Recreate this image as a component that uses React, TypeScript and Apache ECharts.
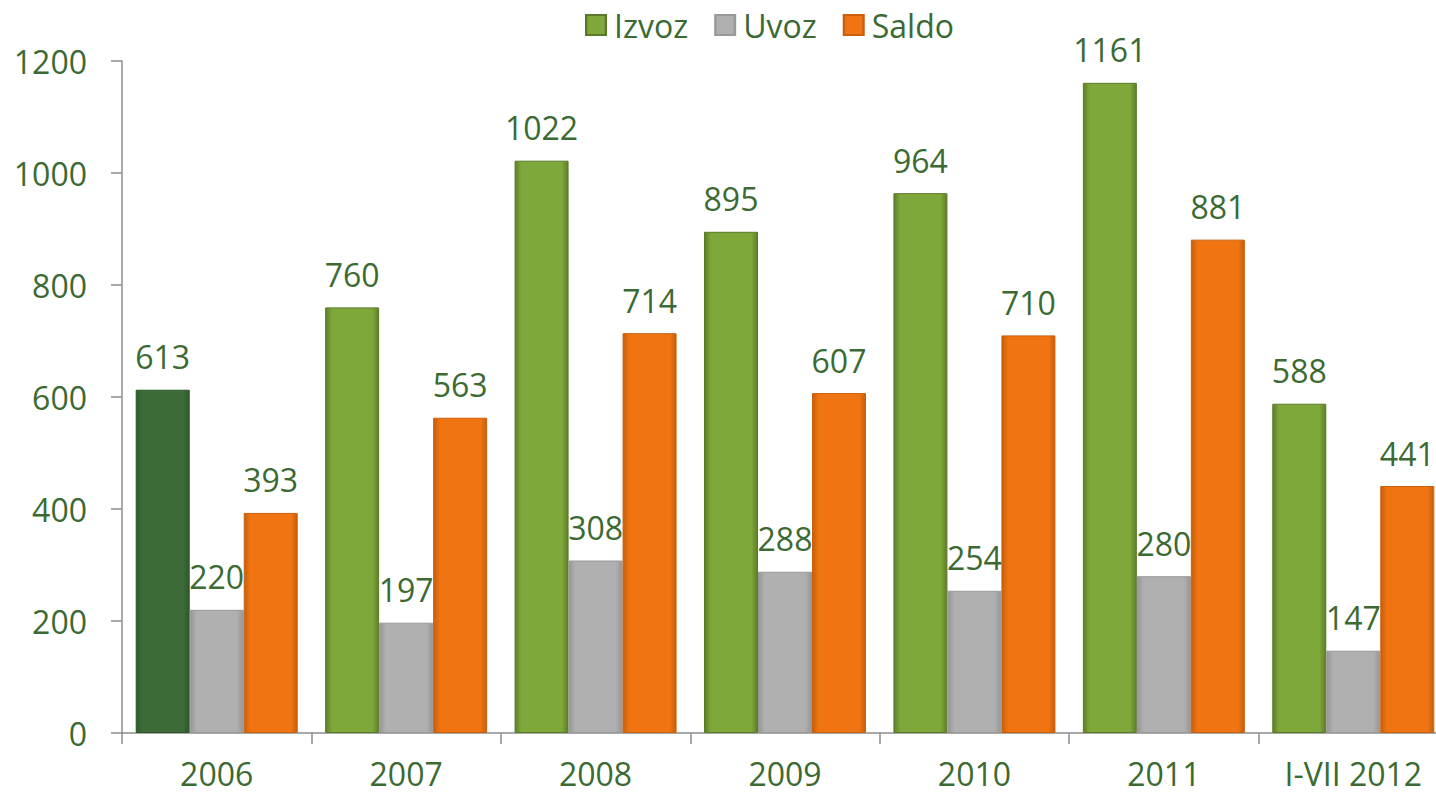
import React, { useEffect, useRef } from "react";
import * as echarts from "echarts";

const categories = ["2006", "2007", "2008", "2009", "2010", "2011", "I-VII 2012"];
const izvoz = [613, 760, 1022, 895, 964, 1161, 588];
const uvoz = [220, 197, 308, 288, 254, 280, 147];
const saldo = [393, 563, 714, 607, 710, 881, 441];
const yTicks = { min: 0, max: 1200, interval: 200 };

const TXT = "#3b6a32";
const FONT = "'Open Sans', 'Noto Sans', sans-serif";
const FS = 32;

const grad = (edge: string, mid: string) =>
  new echarts.graphic.LinearGradient(0, 0, 1, 0, [
    { offset: 0, color: edge },
    { offset: 0.12, color: mid },
    { offset: 0.88, color: mid },
    { offset: 1, color: edge },
  ]);

export default function App() {
  const ref = useRef<HTMLDivElement>(null);
  useEffect(() => {
    if (!ref.current) return;
    const chart = echarts.init(ref.current, undefined, { renderer: "svg" });
    const label = {
      show: true,
      position: "top" as const,
      distance: 17,
      color: TXT,
      fontSize: FS,
      fontFamily: FONT,
    };
    chart.setOption({
      animation: false,
      textStyle: { fontFamily: FONT },
      legend: {
        top: 4,
        left: 580,
        itemWidth: 20,
        itemHeight: 20,
        itemGap: 26,
        icon: "rect",
        textStyle: { color: TXT, fontSize: FS, fontFamily: FONT, padding: [0, 0, 0, 3] },
        data: ["Izvoz", "Uvoz", "Saldo"],
      },
      grid: { left: 122, right: 0, top: 61, bottom: 61 },
      xAxis: {
        type: "category",
        data: categories,
        axisLine: { lineStyle: { color: "#8c8c8c", width: 1.5 } },
        axisTick: { show: true, length: 11, lineStyle: { color: "#8c8c8c", width: 1.5 } },
        axisLabel: { color: TXT, fontSize: FS, fontFamily: FONT, margin: 24 },
      },
      yAxis: {
        type: "value",
        min: yTicks.min,
        max: yTicks.max,
        interval: yTicks.interval,
        splitLine: { show: false },
        axisLine: { show: true, lineStyle: { color: "#8c8c8c", width: 1.5 } },
        axisTick: { show: true, length: 11, lineStyle: { color: "#8c8c8c", width: 1.5 } },
        axisLabel: {
          color: TXT,
          fontSize: FS,
          fontFamily: FONT,
          margin: 35,
          formatter: (v: number) => String(v),
        },
      },
      series: [
        {
          name: "Izvoz",
          type: "bar",
          barWidth: 54,
          barGap: "0%",
          data: izvoz.map((v, i) =>
            i === 0
              ? { value: v, itemStyle: { color: grad("#2f5a2c", "#3c6b37"), borderColor: "#2e552b" } }
              : v
          ),
          itemStyle: { color: grad("#5d7f28", "#7fa83a"), borderColor: "#5a7a2a", borderWidth: 1 },
          label,
        },
        {
          name: "Uvoz",
          type: "bar",
          barWidth: 54,
          barGap: "0%",
          data: uvoz,
          itemStyle: { color: grad("#969696", "#b0b0b0"), borderColor: "#999", borderWidth: 1 },
          label,
        },
        {
          name: "Saldo",
          type: "bar",
          barWidth: 54,
          barGap: "0%",
          data: saldo,
          itemStyle: { color: grad("#c85e0c", "#f07512"), borderColor: "#c9600e", borderWidth: 1 },
          label,
        },
      ],
    });
    return () => chart.dispose();
  }, []);
  return (
    <div
      style={{ position: "absolute", left: 0, top: 0, width: 1436, height: 794, overflow: "hidden", background: "#fff" }}
    >
      <div ref={ref} style={{ width: 1448, height: 794 }} />
    </div>
  );
}
